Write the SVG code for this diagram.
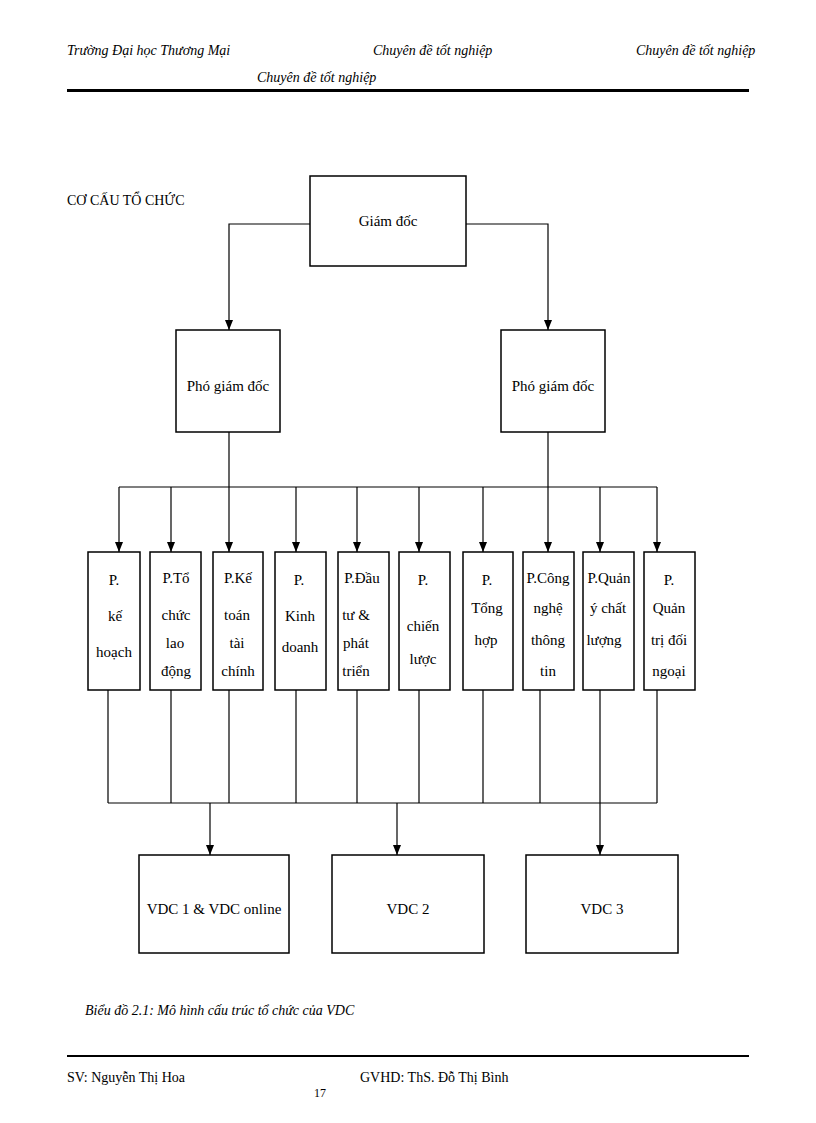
<svg xmlns="http://www.w3.org/2000/svg" width="816" height="1123" viewBox="0 0 816 1123">
<style>
text{font-family:"Liberation Serif",serif;fill:#000}
.h{font-style:italic;font-size:14px}
.b{font-size:15px;text-anchor:middle}
rect{fill:#fff;stroke:#000;stroke-width:1.5}
.c path{fill:none;stroke:#000;stroke-width:1.2}
</style>
<defs><marker id="d" viewBox="0 0 8 10" markerWidth="8" markerHeight="10" refX="4" refY="10" orient="0" markerUnits="userSpaceOnUse"><path d="M0,0 L8,0 L4,10 Z" fill="#000"/></marker></defs>
<text class="h" x="67" y="55">Trường Đại học Thương Mại</text>
<text class="h" x="373" y="55">Chuyên  đề tốt nghiệp</text>
<text class="h" x="636" y="55">Chuyên  đề tốt nghiệp</text>
<text class="h" x="257" y="82">Chuyên  đề tốt nghiệp</text>
<rect x="67" y="89" width="682" height="3" style="fill:#000;stroke:none"/>
<text x="67" y="205" style="font-size:14px">CƠ CẤU TỔ CHỨC</text>
<g class="c">
<path d="M310,224 H229 V330" marker-end="url(#d)"/>
<path d="M466,224 H548 V330" marker-end="url(#d)"/>
<path d="M229,432 V487 M548,432 V487 M119,487 H657"/>
<path d="M119,487V552" marker-end="url(#d)"/><path d="M171,487V552" marker-end="url(#d)"/><path d="M229,487V552" marker-end="url(#d)"/><path d="M296,487V552" marker-end="url(#d)"/><path d="M357,487V552" marker-end="url(#d)"/><path d="M419,487V552" marker-end="url(#d)"/><path d="M483,487V552" marker-end="url(#d)"/><path d="M548,487V552" marker-end="url(#d)"/><path d="M600,487V552" marker-end="url(#d)"/><path d="M657,487V552" marker-end="url(#d)"/>
<path d="M108,690V803 M171,690V803 M229,690V803 M296,690V803 M357,690V803 M419,690V803 M483,690V803 M540,690V803 M600,690V803 M657,690V803 M108,803H657"/>
<path d="M210,803V855" marker-end="url(#d)"/><path d="M397,803V855" marker-end="url(#d)"/><path d="M600,803V855" marker-end="url(#d)"/>
</g>
<g id="gd"><rect x="310" y="176" width="156" height="90"/><text class="b" x="388" y="226">Giám đốc</text></g>
<g id="pgd1"><rect x="176" y="330" width="104" height="102"/><text class="b" x="228" y="391">Phó giám đốc</text></g>
<g id="pgd2"><rect x="501" y="330" width="104" height="102"/><text class="b" x="553" y="391">Phó giám đốc</text></g>
<g id="p1"><rect x="88" y="552" width="52" height="138"/><text class="b" x="114" y="585">P.</text><text class="b" x="115" y="621">kế</text><text class="b" x="114" y="657">hoạch</text></g>
<g id="p2"><rect x="150" y="552" width="51" height="138"/><text class="b" x="176" y="583">P.Tổ</text><text class="b" x="176" y="620">chức</text><text class="b" x="175" y="648">lao</text><text class="b" x="176" y="676">động</text></g>
<g id="p3"><rect x="213" y="552" width="50" height="138"/><text class="b" x="238" y="583">P.Kế</text><text class="b" x="237" y="620">toán</text><text class="b" x="237" y="648">tài</text><text class="b" x="238" y="676">chính</text></g>
<g id="p4"><rect x="275" y="552" width="51" height="138"/><text class="b" x="299" y="585">P.</text><text class="b" x="300" y="621">Kinh</text><text class="b" x="300" y="652">doanh</text></g>
<g id="p5"><rect x="338" y="552" width="51" height="138"/><text class="b" x="362" y="583">P.Đầu</text><text class="b" x="356" y="620">tư &amp;</text><text class="b" x="356" y="648">phát</text><text class="b" x="356" y="676">triển</text></g>
<g id="p6"><rect x="399" y="552" width="51" height="138"/><text class="b" x="423" y="585">P.</text><text class="b" x="423" y="631">chiến</text><text class="b" x="423" y="664">lược</text></g>
<g id="p7"><rect x="463" y="552" width="50" height="138"/><text class="b" x="487" y="585">P.</text><text class="b" x="487" y="613">Tổng</text><text class="b" x="486" y="645">hợp</text></g>
<g id="p8"><rect x="523" y="552" width="51" height="138"/><text class="b" x="548" y="583">P.Công</text><text class="b" x="548" y="613">nghệ</text><text class="b" x="548" y="645">thông</text><text class="b" x="548" y="676">tin</text></g>
<g id="p9"><rect x="583" y="552" width="51" height="138"/><text class="b" x="609" y="583">P.Quản</text><text class="b" x="608" y="613">ý chất</text><text class="b" x="604" y="645">lượng</text></g>
<g id="p10"><rect x="644" y="552" width="51" height="138"/><text class="b" x="669" y="585">P.</text><text class="b" x="669" y="613">Quản</text><text class="b" x="669" y="645">trị đối</text><text class="b" x="669" y="676">ngoại</text></g>
<g id="v1"><rect x="139" y="855" width="150" height="98"/><text class="b" x="214" y="914">VDC 1 &amp; VDC online</text></g>
<g id="v2"><rect x="332" y="855" width="152" height="98"/><text class="b" x="408" y="914">VDC 2</text></g>
<g id="v3"><rect x="526" y="855" width="152" height="98"/><text class="b" x="602" y="914">VDC 3</text></g>
<text class="h" x="85" y="1015" style="font-size:14px">Biểu đồ 2.1: Mô hình cấu trúc tổ chức của VDC</text>
<rect x="67" y="1055" width="682" height="2" style="fill:#000;stroke:none"/>
<text x="67" y="1082" style="font-size:14px">SV: Nguyễn Thị Hoa</text>
<text x="360" y="1082" style="font-size:14px">GVHD: ThS. Đỗ Thị Bình</text>
<text x="314" y="1097" style="font-size:12px">17</text>
</svg>
